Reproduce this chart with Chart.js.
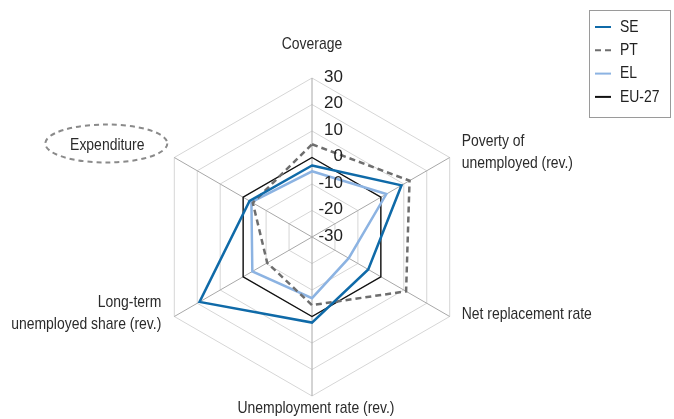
<!DOCTYPE html>
<html>
<head>
<meta charset="utf-8">
<script src="https://cdn.jsdelivr.net/npm/chart.js@4.4.1/dist/chart.umd.min.js"></script>
<style>
  html, body { margin: 0; padding: 0; background: #fff; }
  #wrap { width: 674px; height: 419px; }
</style>
</head>
<body>
<div id="wrap"><canvas id="radarChart" width="674" height="419"></canvas></div>
<script>
/* global Chart */

// Axes, clockwise from the top
const axisLabels = [
  'Coverage',
  ['Poverty of', 'unemployed (rev.)'],
  'Net replacement rate',
  'Unemployment rate (rev.)',
  ['Long-term', 'unemployed share (rev.)'],
  'Expenditure'
];
const seriesNames = ['SE', 'PT', 'EL', 'EU-27'];
const seValues = [-3, 9, -5.5, 2.3, 19, -2.8];
const ptValues = [5, 12.5, 11, -4.3, -10.5, -4.2];
const elValues = [-5.2, 2.4, -14, -6.9, -4, -3.6];
const euValues = [0, 0, 0, 0, 0, 0];
const tickValues = [-30, -20, -10, 0, 10, 20, 30];

const LABEL_FONT = '17px "Liberation Sans", Arial, sans-serif';
const TICK_FONT = '17px "Liberation Sans", Arial, sans-serif';
const NARROW = 0.82; // condensed look of the original typeface

// draws text squeezed horizontally, keeping the anchor where it should be
function narrowText(ctx, text, x, y, align) {
  const w = ctx.measureText(text).width * NARROW;
  let left = x;
  if (align === 'center') left = x - w / 2;
  else if (align === 'right') left = x - w;
  ctx.save();
  ctx.textAlign = 'left';
  ctx.translate(left, y);
  ctx.scale(NARROW, 1);
  ctx.fillText(text, 0, 0);
  ctx.restore();
}

// where each axis title sits, relative to the outer end of its spoke
const labelPlacement = [
  { dx: 0, dy: -34, align: 'center' },
  { dx: 12, dy: -5, align: 'left' },
  { dx: 12, dy: -2, align: 'left' },
  { dx: 4, dy: 12, align: 'center' },
  { dx: -13, dy: -3, align: 'right' },
  { dx: -67, dy: -12, align: 'center', ellipse: true }
];

// tick values written next to the vertical axis (including the centre one)
const tickLabelsPlugin = {
  id: 'tickLabels',
  afterDatasetsDraw(chart) {
    const scale = chart.scales.r;
    const ctx = chart.ctx;
    ctx.save();
    ctx.font = TICK_FONT;
    ctx.fillStyle = '#222';
    ctx.textAlign = 'right';
    ctx.textBaseline = 'middle';
    tickValues.forEach(v => {
      const d = scale.getDistanceFromCenterForValue(v);
      ctx.fillText(String(v), scale.xCenter + 31, scale.yCenter - d - 1);
    });
    ctx.restore();
  }
};

const axisTitlesPlugin = {
  id: 'axisTitles',
  afterDraw(chart) {
    const scale = chart.scales.r;
    const ctx = chart.ctx;
    ctx.save();
    ctx.font = LABEL_FONT;
    ctx.fillStyle = '#2b2b2b';
    ctx.textBaseline = 'middle';
    axisLabels.forEach((label, i) => {
      const p = scale.getPointPosition(i, scale.drawingArea);
      const place = labelPlacement[i];
      const lines = Array.isArray(label) ? label : [label];
      const lineH = 22;
      const x = p.x + place.dx;
      const y0 = p.y + place.dy - (lines.length - 1) * lineH / 2;
      lines.forEach((line, k) => narrowText(ctx, line, x, y0 + k * lineH, place.align));
      if (place.ellipse) {
        ctx.beginPath();
        ctx.setLineDash([5, 4]);
        ctx.lineWidth = 2;
        ctx.strokeStyle = '#8a8a8a';
        ctx.ellipse(x - 1, y0 - 2, 61, 19, 0, 0, Math.PI * 2);
        ctx.stroke();
        ctx.setLineDash([]);
      }
    });
    ctx.restore();
  }
};

// boxed legend in the top right corner
const boxLegendPlugin = {
  id: 'boxLegend',
  afterDraw(chart) {
    const ctx = chart.ctx;
    const left = chart.width - 85;
    const top = 10;
    ctx.save();
    ctx.strokeStyle = '#9a9a9a';
    ctx.lineWidth = 1;
    ctx.strokeRect(left + 0.5, top + 0.5, 81, 107);
    ctx.font = LABEL_FONT;
    ctx.textBaseline = 'middle';
    chart.data.datasets.forEach((ds, i) => {
      const y = top + 17 + i * 23.3;
      ctx.beginPath();
      ctx.strokeStyle = ds.borderColor;
      ctx.lineWidth = 2;
      ctx.setLineDash(ds.borderDash || []);
      ctx.moveTo(left + 6, y);
      ctx.lineTo(left + 22, y);
      ctx.stroke();
      ctx.setLineDash([]);
      ctx.fillStyle = '#222';
      narrowText(ctx, ds.label, left + 31, y, 'left');
    });
    ctx.restore();
  }
};

new Chart(document.getElementById('radarChart'), {
  type: 'radar',
  data: {
    labels: axisLabels,
    datasets: [
      { label: seriesNames[0], data: seValues, borderColor: '#0f6aa8', borderWidth: 2.5 },
      { label: seriesNames[1], data: ptValues, borderColor: '#6e6e6e', borderWidth: 2.5, borderDash: [6, 4] },
      { label: seriesNames[2], data: elValues, borderColor: '#8cb3e2', borderWidth: 2.5 },
      { label: seriesNames[3], data: euValues, borderColor: '#111111', borderWidth: 1.4 }
    ]
  },
  options: {
    responsive: false,
    animation: false,
    devicePixelRatio: 1,
    layout: { padding: { left: 153, right: 203, top: 78, bottom: 23 } },
    elements: {
      line: { tension: 0, fill: false },
      point: { radius: 0, hoverRadius: 0 }
    },
    plugins: {
      legend: { display: false },
      tooltip: { enabled: false }
    },
    scales: {
      r: {
        min: -30,
        max: 30,
        ticks: { stepSize: 10, display: false },
        pointLabels: { display: false },
        grid: { color: '#d6d6d6', lineWidth: 1 },
        angleLines: { color: '#a8a8a8', lineWidth: 1 }
      }
    }
  },
  plugins: [tickLabelsPlugin, axisTitlesPlugin, boxLegendPlugin]
});
</script>
</body>
</html>
